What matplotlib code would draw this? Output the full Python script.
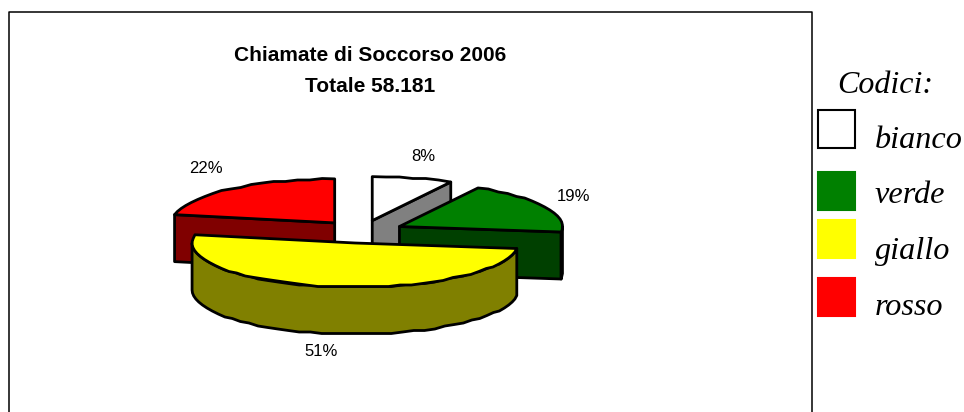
import numpy as np
import matplotlib
matplotlib.use("Agg")
import matplotlib.pyplot as plt
from matplotlib.patches import Polygon, Rectangle

# percentages, in drawing order clockwise from 12 o'clock
codici = ["bianco", "verde", "giallo", "rosso"]
valori = [8, 19, 51, 22]
colori_top = ["#ffffff", "#008000", "#ffff00", "#ff0000"]
colori_lato = ["#808080", "#004000", "#808000", "#800000"]
titolo = "Chiamate di Soccorso 2006\nTotale 58.181"
etichette_xy = [(423, 156), (573, 196), (321, 351), (206, 168)]
legenda_y = [129, 190.5, 238.5, 296.5]
legenda_base = [148.5, 202.5, 259, 315]

# pie geometry, pixels
CX, CY = 361.7, 231.7
RX, RY = 163, 44
DEPTH = 47
EXPLODE = 0.26
PASSO = 1.5  # the source chart has a slightly stepped outline


def punto(cx, cy, ang):
    a = np.radians(ang)
    return cx + RX * np.sin(a), cy - RY * np.cos(a)


def arco(cx, cy, a0, a1):
    n = max(int(abs(a1 - a0) / 4), 2)
    ang = np.linspace(a0, a1, n)
    x, y = punto(cx, cy, ang)
    # snap inner points only, so the ends still meet the cut edges
    y[1:-1] = np.round(y[1:-1] / PASSO) * PASSO
    return np.column_stack([x, y])


def fetta(ax, a0, a1, top, lato):
    mid = np.radians((a0 + a1) / 2)
    cx = CX + EXPLODE * RX * np.sin(mid)
    cy = CY - EXPLODE * RY * np.cos(mid)
    down = np.array([0, DEPTH])
    stile = dict(edgecolor="black", linewidth=2, joinstyle="round")
    apex = np.array([cx, cy])

    # cut faces, only those turned towards the viewer
    for ang, normale in ((a0, a0 - 90), (a1, a1 + 90)):
        if np.cos(np.radians(normale)) < -1e-6:
            p = np.array(punto(cx, cy, ang))
            ax.add_patch(Polygon([apex, p, p + down, apex + down], facecolor=lato, **stile))

    # outer rim, front half only
    r0, r1 = max(a0, 90), min(a1, 270)
    if r1 > r0:
        rim = arco(cx, cy, r0, r1)
        ax.add_patch(Polygon(np.vstack([rim, rim[::-1] + down]), facecolor=lato, **stile))

    ax.add_patch(Polygon(np.vstack([apex, arco(cx, cy, a0, a1)]), facecolor=top, **stile))


fig = plt.figure(figsize=(9.64, 4.12), dpi=100)
ax = fig.add_axes([0, 0, 1, 1])
ax.set_xlim(0, 964)
ax.set_ylim(412, 0)
ax.axis("off")

# frame, open at the bottom
ax.plot([9, 9, 812, 812], [412, 12, 12, 412], color="black", lw=1.1)

fine = np.cumsum(valori) * 3.6
inizio = fine - np.array(valori) * 3.6
for i in [0, 3, 1, 2]:
    fetta(ax, inizio[i], fine[i], colori_top[i], colori_lato[i])

for v, (x, y) in zip(valori, etichette_xy):
    ax.text(x, y, f"{v}%", ha="center", va="center", fontsize=12,
            family="Liberation Sans")

ax.text(370, 71, titolo, ha="center", va="center", fontsize=15, fontweight="bold",
        family="Liberation Sans", linespacing=1.8)

# legend
ax.text(885, 93, "Codici:", ha="center", va="baseline", fontsize=23, style="italic",
        family="Liberation Serif")
for nome, col, y, base in zip(codici, colori_top, legenda_y, legenda_base):
    bordo = "black" if col == "#ffffff" else col
    ax.add_patch(Rectangle((817.5, y - 19), 37, 38, facecolor=col, edgecolor=bordo, lw=1.5))
    ax.text(875, base, nome, ha="left", va="baseline", fontsize=23.2, style="italic",
            family="Liberation Serif")

fig.savefig("out.png", dpi=100)
